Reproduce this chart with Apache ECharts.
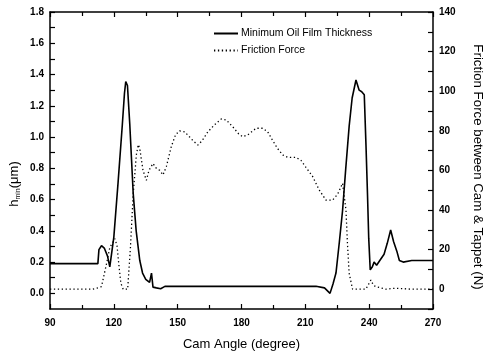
<!DOCTYPE html>
<html><head><meta charset="utf-8">
<script src="https://cdn.jsdelivr.net/npm/echarts@6.0.0/dist/echarts.min.js"></script>
<style>html,body{margin:0;padding:0;background:#fff}#c{width:487px;height:358px}</style>
</head><body><div id="c"></div><script>
// Minimum oil film thickness (um) vs cam angle (deg)
const filmAngle = [90,112.5,113,114.2,115.5,117,118.1,119,120,122,124,125,125.6,126.4,127.5,129.1,130.5,132.2,133.5,135,136.8,137.7,138.4,140,142,144,160,180,200,215,219,221.6,223,224.4,226,227.5,229,230.6,232,233.8,235.3,236.5,237.7,238.5,239.2,239.8,240.5,241.5,242.3,243.5,245,247,248.5,250.1,251.5,253,254.2,256,260,270];
const filmValue = [0.19,0.19,0.28,0.305,0.29,0.24,0.17,0.18,0.36,0.71,1.08,1.28,1.355,1.33,1.08,0.64,0.40,0.21,0.13,0.09,0.07,0.13,0.04,0.035,0.03,0.045,0.045,0.045,0.045,0.045,0.035,0.0,0.06,0.13,0.33,0.53,0.80,1.07,1.25,1.365,1.30,1.29,1.27,0.95,0.64,0.35,0.15,0.17,0.20,0.18,0.21,0.25,0.32,0.405,0.33,0.27,0.21,0.20,0.21,0.21];
// Friction force (N) vs cam angle (deg)
const frictionAngle = [90,110,112,114.2,116.6,118.1,120.5,121.5,122.3,123.3,124.4,126.5,127.8,129.1,130.6,131.5,132.2,133.7,135.3,136.5,138.4,140,141.6,143.1,144.7,147,149,150.9,153.3,155.5,157.2,159.5,161.5,164.2,167.3,170.5,172.8,175.9,178.7,180.6,183,186.9,190,192.3,194.7,197,199.4,201.7,205.6,208,210.3,213.4,216.6,219.7,222.8,225.2,227.5,229.1,229.8,230.6,232.2,238.4,240,240.8,242,243.1,247.8,252.5,260,270];
const frictionValue = [0,0,0.5,1.3,13,21,25.5,22,13,3,0,0,21,48,68,73,71,60,55,60,63.5,61,60,57.7,62,72,78,80,79.5,77,75,72.8,75,79.5,83,86,85.5,82,78.4,77,78,81.3,81.3,79.5,75,71,67.8,66.6,66.6,65,61.5,57,50,45,45,48,53.5,40,23,8,0,0,3,4.6,2,1.3,0,0.5,0,0];
const xTickLabels = [90,120,150,180,210,240,270];
const leftTickLabels = [0,0.2,0.4,0.6,0.8,1.0,1.2,1.4,1.6,1.8];
const rightTickLabels = [0,20,40,60,80,100,120,140];

const leftAllTicks = [];
for (let i = 0; i <= 18; i++) leftAllTicks.push(+(i * 0.1).toFixed(1));

const film = filmAngle.map((a, i) => [a, filmValue[i]]);
const friction = frictionAngle.map((a, i) => [a, frictionValue[i]]);

const FONT = 'Liberation Sans, Arial, sans-serif';
const axisLine = {show: true, onZero: false, lineStyle: {color: '#000', width: 1.5}};
const tickStyle = {color: '#000', width: 1.2};

const chart = echarts.init(document.getElementById('c'), null, {renderer: 'canvas'});
chart.setOption({
  animation: false,
  backgroundColor: '#fff',
  grid: {left: 50, right: 54, top: 12, bottom: 49},
  legend: {
    orient: 'vertical', left: 208, top: 23, itemWidth: 24, itemHeight: 10, itemGap: 6,
    itemStyle: {opacity: 0},
    textStyle: {fontFamily: FONT, fontSize: 10.5, color: '#000', padding: [0, 0, 0, -2]},
    data: ['Minimum Oil Film Thickness', 'Friction Force']
  },
  xAxis: [{
    type: 'value', min: 90, max: 270, interval: 30, position: 'bottom',
    axisLine: axisLine,
    axisTick: {show: true, inside: true, length: 5, lineStyle: tickStyle},
    minorTick: {show: true, splitNumber: 2, length: 4, lineStyle: tickStyle},
    splitLine: {show: false},
    axisLabel: {customValues: xTickLabels, margin: 9, fontFamily: FONT, fontSize: 10, fontWeight: 'bold', color: '#000'},
    name: 'Cam Angle (degree)', nameLocation: 'middle', nameGap: 29,
    nameTextStyle: {fontFamily: FONT, fontSize: 13, color: '#000'}
  }, {
    type: 'value', min: 90, max: 270, interval: 30, position: 'top',
    axisLine: axisLine,
    axisTick: {show: true, inside: true, length: 5, lineStyle: tickStyle},
    minorTick: {show: true, splitNumber: 2, length: 4, lineStyle: tickStyle},
    splitLine: {show: false}, axisLabel: {show: false}
  }],
  yAxis: [{
    type: 'value', min: -0.1, max: 1.8, position: 'left',
    axisLine: axisLine,
    axisTick: {show: true, inside: true, length: 5, customValues: leftAllTicks, lineStyle: tickStyle},
    splitLine: {show: false},
    axisLabel: {customValues: leftTickLabels, margin: 6, formatter: v => v.toFixed(1), fontFamily: FONT, fontSize: 10, fontWeight: 'bold', color: '#000'}
  }, {
    type: 'value', min: -10, max: 140, interval: 10, position: 'right',
    axisLine: axisLine,
    axisTick: {show: true, inside: true, length: 5, lineStyle: tickStyle},
    splitLine: {show: false},
    axisLabel: {customValues: rightTickLabels, margin: 6, fontFamily: FONT, fontSize: 10, fontWeight: 'bold', color: '#000'}
  }],
  graphic: [{
    type: 'text', x: 14, y: 184, rotation: Math.PI / 2,
    style: {
      text: '{a|h}{b|min}{a|(μm)}', align: 'center', verticalAlign: 'middle',
      rich: {
        a: {fontFamily: FONT, fontSize: 13, lineHeight: 16, fill: '#000'},
        b: {fontFamily: FONT, fontSize: 7, lineHeight: 16, verticalAlign: 'bottom', fill: '#000'}
      }
    }
  }, {
    type: 'text', x: 478, y: 167, rotation: -Math.PI / 2,
    style: {text: 'Friction Force between Cam & Tappet (N)', align: 'center', verticalAlign: 'middle',
      fontFamily: FONT, fontSize: 13.3, fill: '#000'}
  }],
  series: [{
    name: 'Minimum Oil Film Thickness', type: 'line', xAxisIndex: 0, yAxisIndex: 0,
    data: film, symbol: 'none', smooth: false,
    lineStyle: {color: '#000', width: 1.6, type: 'solid'},
    itemStyle: {color: '#000'}
  }, {
    name: 'Friction Force', type: 'line', xAxisIndex: 0, yAxisIndex: 1,
    data: friction, symbol: 'none', smooth: false,
    lineStyle: {color: '#000', width: 1.3, type: [1.3, 2.6]},
    itemStyle: {color: '#000'}
  }]
});
</script></body></html>
